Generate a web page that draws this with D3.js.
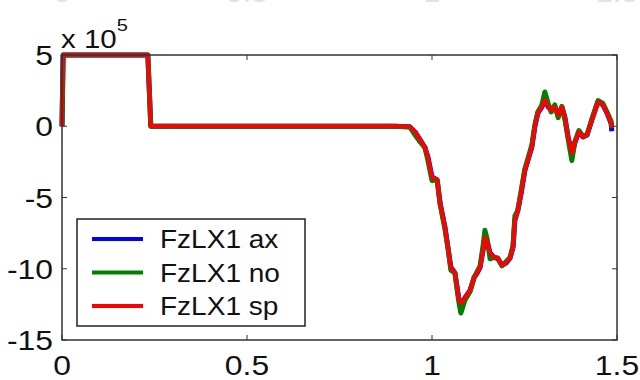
<!DOCTYPE html>
<html>
<head>
<meta charset="utf-8">
<script src="https://cdn.jsdelivr.net/npm/d3@7"></script>
<style>
  body { margin: 0; background: #fff; }
  svg { display: block; }
  text { font-family: "Liberation Sans", Arial, sans-serif; fill: #111; }
</style>
</head>
<body>
<svg class="chart" width="640" height="380"></svg>
<script>
(function () {
    'use strict';

    // time axis (s) shared by the three series
    var t = [0, 0.003, 0.232, 0.24, 0.5, 0.9, 0.94, 0.954, 0.968, 0.981, 0.989, 1.0, 1.014, 1.022,
        1.035, 1.043, 1.051, 1.062, 1.068, 1.073, 1.078, 1.089, 1.103, 1.114, 1.122, 1.13, 1.138,
        1.143, 1.149, 1.157, 1.168, 1.178, 1.189, 1.2, 1.211, 1.219, 1.224, 1.232, 1.241, 1.251,
        1.259, 1.27, 1.278, 1.286, 1.297, 1.305, 1.314, 1.322, 1.332, 1.341, 1.351, 1.359, 1.368,
        1.378, 1.386, 1.397, 1.408, 1.419, 1.432, 1.449, 1.462, 1.473, 1.484, 1.486];

    // values in units of 1e5
    var fzAx = [0, 5, 5, 0, 0, 0, -0.03, -0.4, -0.96, -1.5, -2.15, -3.56, -3.77, -5.4,
        -7.07, -8.5, -9.9, -10.3, -11.3, -12.2, -12.5, -12.05, -11.5, -10.6, -10.3, -9.9, -8.7,
        -7.8, -8.1, -8.9, -9.2, -9.3, -9.75, -9.6, -9.25, -8.5, -6.6, -5.9, -4.7, -3.1,
        -2.4, -1.45, -0.03, 0.92, 1.35, 1.9, 1.35, 1.14, 1.35, 0.79, 1.35, 0.65, -0.75,
        -1.95, -1.17, -0.4, -0.75, -0.61, 0.44, 1.75, 1.5, 0.92, 0.2, -0.35];
    var fzNo = [0, 5, 5, 0, 0, 0, -0.05, -0.6, -1.1, -1.5, -2.4, -3.8, -3.77, -5.5,
        -7.2, -8.5, -10.1, -10.3, -11.5, -12.4, -13.1, -12.2, -11.6, -10.6, -10.2, -9.8, -8.4,
        -7.3, -7.9, -9.3, -9.2, -9.25, -9.8, -9.5, -9.2, -8.4, -6.3, -5.9, -4.5, -3.0,
        -2.3, -1.3, 0.1, 1.0, 1.5, 2.4, 1.6, 1.0, 1.5, 0.6, 1.4, 0.5, -0.9,
        -2.4, -1.1, -0.3, -0.7, -0.6, 0.5, 1.8, 1.6, 1.0, 0.35, -0.1];
    var fzSp = [0, 5, 5, 0, 0, 0, -0.03, -0.38, -0.96, -1.5, -2.15, -3.56, -3.77, -5.4,
        -7.07, -8.5, -9.9, -10.3, -11.3, -12.2, -12.4, -12.05, -11.5, -10.6, -10.3, -9.9, -8.7,
        -7.8, -8.1, -8.9, -9.2, -9.25, -9.75, -9.6, -9.25, -8.5, -6.6, -5.9, -4.7, -3.1,
        -2.4, -1.45, -0.03, 0.92, 1.35, 1.84, 1.35, 1.14, 1.35, 0.79, 1.35, 0.65, -0.75,
        -1.88, -1.17, -0.4, -0.75, -0.61, 0.44, 1.7, 1.5, 0.92, 0.3, -0.12];

    var seriesNames = ['FzLX1 ax', 'FzLX1 no', 'FzLX1 sp'];
    var seriesColors = ['#0000ff', '#008000', '#ff0000'];
    var xTicks = [0, 0.5, 1, 1.5];
    var yTicks = [5, 0, -5, -10, -15];

    var left = 62, right = 617, top = 55, bottom = 340;
    var stretch = 1.18;

    var svg = d3.select('.chart');
    var x = d3.scaleLinear().domain([0, 1.5]).range([left, right]);
    var y = d3.scaleLinear().domain([-15, 5]).range([bottom, top]);

    // faint labels of the plot above, mostly cut off by the top edge
    svg.append('g').selectAll('text').data(xTicks).enter().append('text')
        .attr('transform', function (d) { return 'translate(' + x(d) + ',2) scale(' + stretch + ',1)'; })
        .attr('text-anchor', 'middle')
        .style('font-size', '26px')
        .style('fill', '#e2e2e2')
        .text(function (d) { return d; });

    var series = [fzAx, fzNo, fzSp];
    var line = d3.line()
        .x(function (d, i) { return x(t[i]); })
        .y(function (d) { return y(d); });

    svg.append('g').selectAll('path').data(series).enter().append('path')
        .attr('d', line)
        .attr('fill', 'none')
        .attr('stroke', function (d, i) { return seriesColors[i]; })
        .attr('stroke-width', function (d, i) { return i === 2 ? 4 : 5; })
        .attr('stroke-linejoin', 'round');

    // axes box and ticks
    var axisG = svg.append('g');
    axisG.append('rect')
        .attr('x', left).attr('y', top)
        .attr('width', right - left).attr('height', bottom - top)
        .attr('fill', 'none').attr('stroke', '#333').attr('stroke-width', 1.5);

    var tickLen = 5;
    xTicks.forEach(function (d) {
        axisG.append('line').attr('x1', x(d)).attr('x2', x(d)).attr('y1', bottom).attr('y2', bottom - tickLen)
            .attr('stroke', '#333');
        axisG.append('line').attr('x1', x(d)).attr('x2', x(d)).attr('y1', top).attr('y2', top + tickLen)
            .attr('stroke', '#333');
        axisG.append('text')
            .attr('transform', 'translate(' + x(d) + ',375) scale(' + stretch + ',1)')
            .attr('text-anchor', 'middle')
            .style('font-size', '27px')
            .text(d);
    });
    yTicks.forEach(function (d) {
        axisG.append('line').attr('x1', left).attr('x2', left + tickLen).attr('y1', y(d)).attr('y2', y(d))
            .attr('stroke', '#333');
        axisG.append('line').attr('x1', right).attr('x2', right - tickLen).attr('y1', y(d)).attr('y2', y(d))
            .attr('stroke', '#333');
        axisG.append('text')
            .attr('transform', 'translate(53,' + (y(d) + 10) + ') scale(' + stretch + ',1)')
            .attr('text-anchor', 'end')
            .style('font-size', '27px')
            .text(d);
    });

    // exponent label
    var expo = svg.append('text')
        .attr('transform', 'translate(61,48) scale(' + stretch + ',1)')
        .style('font-size', '25px');
    expo.append('tspan').text('x 10');
    expo.append('tspan').attr('dy', -17).style('font-size', '17px').text('5');

    // legend
    var leg = svg.append('g');
    leg.append('rect')
        .attr('x', 77).attr('y', 219).attr('width', 228).attr('height', 107)
        .attr('fill', '#fff').attr('stroke', '#222').attr('stroke-width', 1.5);
    var rows = leg.selectAll('g.row').data(seriesNames).enter().append('g')
        .attr('transform', function (d, i) { return 'translate(0,' + (239 + i * 33.5) + ')'; });
    rows.append('line')
        .attr('x1', 92).attr('x2', 143)
        .attr('stroke', function (d, i) { return seriesColors[i]; })
        .attr('stroke-width', 4);
    rows.append('text')
        .attr('transform', 'translate(160,9) scale(' + (stretch * 0.95) + ',1)')
        .style('font-size', '25px')
        .text(function (d) { return d; });
}());
</script>
</body>
</html>
